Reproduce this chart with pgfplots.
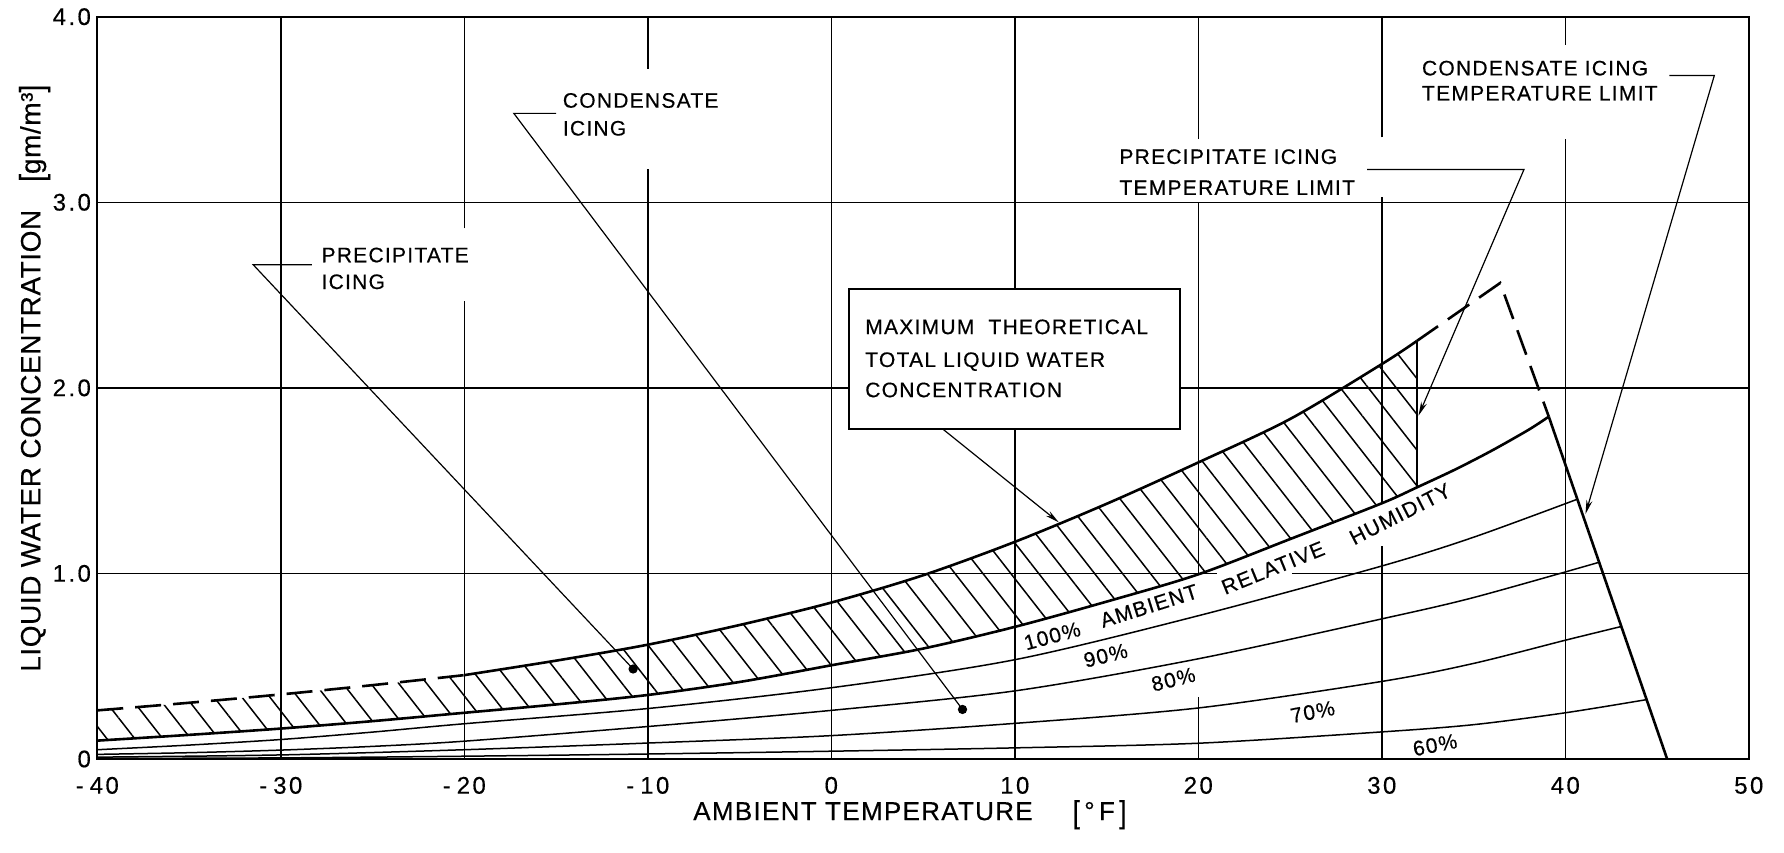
\documentclass[border=0pt]{standalone}
\usepackage{fontspec}
\setmainfont{Liberation Sans}
\newfontfamily\labelfont[LetterSpace=5,FakeBold=0.4]{Liberation Sans}
\newfontfamily\ylabelfont[LetterSpace=2,FakeBold=0.4]{Liberation Sans}
\newfontfamily\notefont[LetterSpace=6,FakeBold=0.4]{Liberation Sans}
\newfontfamily\tickfont[LetterSpace=10,FakeBold=0.4]{Liberation Sans}
\usepackage{graphicx}
\usepackage{pgfplots}
\usepackage{pgfplotstable}
\pgfplotsset{compat=1.18}
\usepgfplotslibrary{fillbetween}
\usetikzlibrary{patterns.meta,arrows.meta}

% maximum theoretical total liquid water concentration
\pgfplotstableread{
x y
-40 0.262
-35 0.303
-30 0.348
-25 0.398
-20 0.452
-15 0.530
-10 0.616
-5 0.722
0 0.843
5 0.990
10 1.170
15 1.375
20 1.598
25 1.832
30 2.128
31.9 2.252
}\totalwater

% condensate at 100% ambient relative humidity
\pgfplotstableread{
x y
-40 0.099
-35 0.130
-30 0.164
-25 0.204
-20 0.249
-15 0.294
-10 0.345
-5 0.415
0 0.505
5 0.595
10 0.712
15 0.848
20 0.995
25 1.185
30 1.378
31.9 1.463
34 1.560
36 1.662
38 1.774
39.1 1.845
}\rhhundred

\pgfplotstableread{
x y
-40 0.050
-35 0.075
-30 0.105
-25 0.145
-20 0.190
-10 0.272
0 0.384
10 0.535
20 0.772
30 1.040
35 1.195
40.66 1.400
}\rhninety

\pgfplotstableread{
x y
-40 0.025
-35 0.034
-30 0.048
-25 0.068
-20 0.096
-10 0.175
0 0.262
10 0.367
20 0.540
30 0.755
35 0.870
41.84 1.060
}\rheighty

\pgfplotstableread{
x y
-40 0.010
-30 0.022
-20 0.050
-10 0.086
0 0.126
10 0.192
20 0.275
30 0.418
35 0.515
40 0.640
43.05 0.714
}\rhseventy

\pgfplotstableread{
x y
-40 0.003
-30 0.006
-20 0.015
-10 0.027
0 0.042
10 0.060
20 0.085
30 0.146
35 0.185
40 0.249
44.43 0.320
}\rhsixty

\newcommand\lbr{\raisebox{-0.1em}{\scalebox{1}[1.2]{[}}}
\newcommand\rbr{\raisebox{-0.1em}{\scalebox{1}[1.2]{]}}}

\tikzset{
  gridline/.style={black, line width=0.7pt},
  mainline/.style={black, line width=1.3pt},
  rhline/.style={black, line width=0.75pt},
  leader/.style={black, line width=0.6pt},
  note/.style={font=\notefont\fontsize{10.5}{12}\selectfont, inner sep=0pt,
               anchor=west, text height=7.5pt, text depth=0pt},
  pct/.style={font=\notefont\fontsize{10.5}{12}\selectfont, inner sep=0pt},
  tip/.style={-{Stealth[length=7pt,width=3pt]}},
}

\begin{document}
\begin{tikzpicture}
\begin{axis}[
  scale only axis,
  width=825.75pt, height=371.15pt,
  xmin=-40, xmax=50, ymin=0, ymax=4,
  clip=false,
  axis line style={line width=1pt},
  xtick={-40,-30,...,50},
  xticklabels={-\hspace{3pt}40,-\hspace{3pt}30,-\hspace{3pt}20,-\hspace{3pt}10,0,10,20,30,40,50},
  ytick={0,1,2,3,4},
  yticklabels={0,1.0,2.0,3.0,4.0},
  major tick length=0pt,
  xticklabel style={font=\tickfont\fontsize{12}{13}\selectfont, anchor=center, inner sep=0pt, yshift=-13.2pt},
  yticklabel style={font=\tickfont\fontsize{12}{13}\selectfont, anchor=east, inner sep=0pt, xshift=-3pt},
  xlabel={AMBIENT TEMPERATURE\hspace{20pt}\lbr\,°\,F\,\rbr},
  ylabel={LIQUID WATER CONCENTRATION\hspace{14pt}\lbr gm/m³\rbr},
  xlabel style={font=\labelfont\fontsize{13}{15}\selectfont, at={(axis description cs:0.492,-0.075)}, anchor=center},
  ylabel style={font=\ylabelfont\fontsize{14}{16}\selectfont, at={(axis description cs:-0.038,0.513)}, anchor=center},
]

% grid, broken where lettering sits
\addplot[gridline, unbounded coords=jump] coordinates {
  (-30,0) (-30,4) (nan,nan)
  (-20,0) (-20,2.47) (nan,nan) (-20,2.86) (-20,4) (nan,nan)
  (-10,0) (-10,3.18) (nan,nan) (-10,3.72) (-10,4) (nan,nan)
  (0,0) (0,4) (nan,nan)
  (10,0) (10,4) (nan,nan)
  (20,0) (20,0.336) (nan,nan) (20,0.99) (20,3.0) (nan,nan) (20,3.34) (20,4) (nan,nan)
  (30,0) (30,1.15) (nan,nan) (30,1.376) (30,3.03) (nan,nan) (30,3.35) (30,4) (nan,nan)
  (40,0) (40,3.34) (nan,nan) (40,3.85) (40,4) (nan,nan)
  (-40,1) (21,1) (nan,nan) (25.1,1) (50,1) (nan,nan)
  (-40,2) (50,2) (nan,nan)
  (-40,3) (50,3)
};

% hatched band: precipitate icing
\addplot[name path=upper, draw=none, smooth] table[x=x,y=y] {\totalwater};
\addplot[name path=lower, draw=none, smooth, restrict x to domain=-40:31.9] table[x=x,y=y] {\rhhundred};
\addplot[draw=none, pattern={Lines[angle=-52,distance=11pt,line width=0.75pt]}, pattern color=black]
  fill between[of=upper and lower];

% total liquid water curve
\addplot[mainline, smooth, dash pattern=on 13pt off 6pt, restrict x to domain=-40:-20] table[x=x,y=y] {\totalwater};
\addplot[mainline, smooth, restrict x to domain=-20:32] table[x=x,y=y] {\totalwater};
\addplot[mainline, dash pattern=on 13pt off 6pt] coordinates {(31.9,2.252) (36.45,2.565) (39.1,1.845)};

% precipitate icing temperature limit
\addplot[black, line width=1pt] coordinates {(31.9,2.252) (31.9,1.463)};

% relative humidity curves
\addplot[mainline, smooth] table[x=x,y=y] {\rhhundred};
\addplot[rhline, smooth] table[x=x,y=y] {\rhninety};
\addplot[rhline, smooth] table[x=x,y=y] {\rheighty};
\addplot[rhline, smooth] table[x=x,y=y] {\rhseventy};
\addplot[rhline, smooth] table[x=x,y=y] {\rhsixty};

% condensate icing temperature limit
\addplot[mainline] coordinates {(39.1,1.845) (45.55,0)};

% curve labels
\node[pct, rotate=15] at (axis cs:12.04,0.663) {100\%};
\node[pct, rotate=17.5] at (axis cs:17.31,0.825) {AMBIENT};
\node[pct, rotate=22] at (axis cs:24.07,1.03) {RELATIVE};
\node[pct, rotate=27] at (axis cs:31.0,1.32) {HUMIDITY};
\node[pct, rotate=14] at (axis cs:14.95,0.558) {90\%};
\node[pct, rotate=14] at (axis cs:18.64,0.429) {80\%};
\node[pct, rotate=11] at (axis cs:26.23,0.254) {70\%};
\node[pct, rotate=11] at (axis cs:32.9,0.076) {60\%};

% boxed note
\draw[line width=1pt, fill=white] (axis cs:0.98,1.776) rectangle (axis cs:19.0,2.532);
\node[note] at (axis cs:1.83,2.33) {MAXIMUM\ \ THEORETICAL};
\node[note] at (axis cs:1.83,2.153) {TOTAL LIQUID WATER};
\node[note] at (axis cs:1.83,1.99) {CONCENTRATION};
\addplot[leader, tip] coordinates {(6.1,1.776) (12.4,1.275)};

% region notes with leaders
\node[note] at (axis cs:-27.8,2.717) {PRECIPITATE};
\node[note] at (axis cs:-27.8,2.573) {ICING};
\addplot[leader, mark=*, mark size=2pt, mark indices={3}] coordinates {(-28.3,2.663) (-31.5,2.663) (-10.8,0.485)};

\node[note] at (axis cs:-14.65,3.55) {CONDENSATE};
\node[note] at (axis cs:-14.65,3.40) {ICING};
\addplot[leader, mark=*, mark size=2pt, mark indices={3}] coordinates {(-15.0,3.479) (-17.3,3.479) (7.15,0.267)};

\node[note] at (axis cs:15.68,3.247) {PRECIPITATE ICING};
\node[note] at (axis cs:15.68,3.08) {TEMPERATURE LIMIT};
\addplot[leader, tip] coordinates {(29.2,3.177) (37.75,3.177) (32.0,1.85)};

\node[note] at (axis cs:32.17,3.724) {CONDENSATE ICING};
\node[note] at (axis cs:32.17,3.589) {TEMPERATURE LIMIT};
\addplot[leader, tip] coordinates {(45.67,3.683) (48.12,3.683) (41.1,1.32)};

\end{axis}
\pgfresetboundingbox
\path (-48.65pt,-46.5pt) rectangle (843.35pt,379.5pt);
\end{tikzpicture}
\end{document}
